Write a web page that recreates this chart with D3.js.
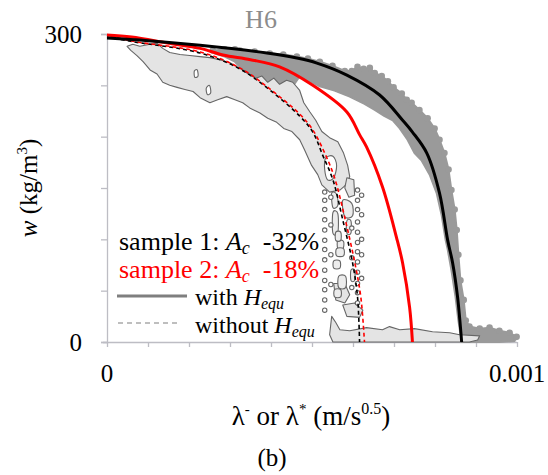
<!DOCTYPE html>
<html>
<head>
<meta charset="utf-8">
<script src="https://cdn.jsdelivr.net/npm/d3@7"></script>
<style>
  html, body { margin: 0; padding: 0; background: #fff; }
  svg { display: block; }
  svg text { font-family: "Liberation Serif", "Times New Roman", "DejaVu Serif", serif; }
</style>
</head>
<body>
<svg id="chart" width="548" height="475" font-family="Liberation Serif, serif"></svg>
<script>
// λ values are written in units of 1e-4 m/s^0.5; w in kg/m3.
const LAMBDA_UNIT = 1e-4;

const xTickValues = d3.range(0, 11).map(i => i * LAMBDA_UNIT);
const xTickLabels = { 0: "0", 10: "0.001" };
const yTickValues = [0, 50, 100, 150, 200, 250, 300];
const yTickLabels = { 0: "0", 300: "300" };

// Model curves
const sample1With = [[0,296],[1.0,293.5],[2.27,289],[3.9,281.5],[4.63,276.6],[5.12,271.7],[5.85,260],[6.65,240.6],[7.21,216],[7.45,204.5],[7.8,184],[8.11,145],[8.31,99],[8.43,77],[8.55,44],[8.65,0]];
const sample2With = [[0,299],[0.6,297],[1.5,291],[2.27,286],[2.83,279.5],[3.5,275],[4.21,268],[5.02,250],[5.85,224],[6.16,202],[6.33,190],[6.72,151],[7.06,102],[7.21,77],[7.38,34],[7.45,0]];
const sample1Without = [[0,297],[0.63,292.5],[2.27,281.5],[3.24,266],[3.97,245.5],[4.70,220],[5.02,204.5],[5.26,182],[5.51,158],[5.75,119],[5.99,77],[6.11,44],[6.16,0]];
const sample2Without = [[0,299],[0.63,293],[2.27,282.5],[3.24,267],[3.97,246.5],[4.70,222],[5.02,206.5],[5.31,184],[5.55,160],[5.80,121],[6.04,78],[6.19,44],[6.28,0]];

// Sample 1 measurements: outer edge of the point cloud (upper/right side) and inner edge
const sample1Outer = [[2.58,284],[2.87,285],[3.12,285],[3.24,284],[3.6,283],[3.97,281],[4.3,280],[4.63,278],[4.9,276],[5.19,273],[5.5,269],[5.80,264],[5.97,264],[6.11,268],[6.26,266],[6.41,267],[6.53,262],[6.70,259],[6.85,254],[6.99,248],[7.19,242],[7.31,236],[7.43,233],[7.62,226],[7.82,218],[7.99,208],[8.11,197],[8.23,184],[8.33,168],[8.40,148],[8.48,129],[8.53,109],[8.57,85],[8.62,60],[8.70,41],[8.75,21],[8.84,15],[9.09,13],[9.33,14],[9.57,11],[9.82,9],[9.99,5]];
const sample1Inner = [[9.94,1],[9.57,0],[8.96,0],[8.65,0],[8.57,21],[8.50,44],[8.40,70],[8.31,90],[8.26,99],[8.16,124],[8.04,145],[7.87,163],[7.67,177],[7.50,184],[7.33,197],[7.14,208],[6.97,216],[6.77,220],[6.53,226],[6.28,232],[5.92,239],[5.55,245],[5.19,249],[4.90,255],[4.70,259],[4.53,249],[4.38,255],[4.21,251],[4.07,257],[3.92,253],[3.78,259],[3.63,257],[3.48,260],[3.31,265],[3.12,273],[2.87,278],[2.63,281]];

// Sample 2 measurements: outlined regions, holes, small blobs and isolated points
const sample2Regions = [
  [[0.49,288],[0.63,290],[0.80,288],[1.05,290],[1.22,291],[1.36,286],[1.53,282],[1.78,280],[2.02,279],[2.27,278],[2.51,277],[2.75,275],[3.00,272],[3.31,265],[3.48,260],[3.63,257],[3.78,259],[3.92,253],[4.07,257],[4.21,251],[4.38,255],[4.53,253],[4.70,245],[4.80,233],[4.95,224],[5.09,216],[5.24,205],[5.43,199],[5.63,195],[5.77,184],[5.87,172],[5.92,161],[5.80,152],
   [5.68,148],[5.43,146],[5.24,153],[5.14,163],[4.99,172],[4.82,187],[4.70,197],[4.51,205],[4.31,208],[4.14,214],[3.92,218],[3.73,223],[3.48,228],[3.31,233],[3.12,236],[2.92,239],[2.70,236],[2.51,233],[2.27,238],[2.10,244],[1.90,246],[1.71,248],[1.53,250],[1.36,253],[1.22,261],[1.05,265],[0.88,273],[0.73,279],[0.58,284]],
  [[5.85,160],[6.02,158],[6.04,143],[5.90,141],[5.80,150]],
  [[5.53,57],[5.80,57],[5.92,46],[5.80,38],[5.58,41]],
  [[5.75,36],[6.04,38],[6.24,31],[6.16,24],[5.85,25]],
  [[5.48,25],[5.58,19],[5.68,12],[5.92,11],[6.33,14],[6.72,12],[6.89,15],[7.14,12],[7.50,13],[7.94,10],[8.36,9],[8.60,7],[9.09,6],[9.04,2],[8.84,0],[5.51,0],[5.43,7]]
];
const sample2Blobs = [
  [[5.48,145],[5.60,144],[5.63,133],[5.51,131]],
  [[5.51,126],[5.63,125],[5.63,107],[5.51,106]],
  [[5.75,138],[5.97,135],[5.99,123],[5.80,122]],
  [[5.63,99],[5.77,98],[5.75,90],[5.63,91]],
  [[5.58,107],[5.70,107],[5.70,99],[5.58,99]],
  [[5.60,91],[5.77,91],[5.77,84],[5.60,84]],
  [[5.53,79],[5.68,79],[5.68,72],[5.53,72]],
  [[5.65,64],[5.82,64],[5.82,53],[5.65,53]],
  [[5.55,51],[5.70,51],[5.70,44],[5.55,44]],
  [[5.85,118],[5.95,118],[5.95,106],[5.85,106]],
  [[5.95,70],[6.04,70],[6.04,60],[5.95,60]]
];
const sample2Holes = [
  [[5.33,179],[5.51,181],[5.60,172],[5.53,160],[5.38,158],[5.31,168]],
  [[2.13,264],[2.20,265],[2.22,259],[2.14,258]],
  [[2.42,247],[2.50,250],[2.53,243],[2.45,241]]
];
const sample2Points = [
  [5.31,146],[5.31,138],[5.31,129],[5.31,119],[5.31,109],[5.31,99],[5.31,90],[5.31,80],[5.31,70],[5.31,60],[5.31,51],[5.31,41],[5.31,31],
  [5.46,141],[5.46,114],[5.46,85],[5.46,56],
  [6.11,148],[6.11,138],[6.11,129],[6.11,117],[6.11,107],[6.11,97],[6.11,88],[6.11,78],[6.11,68],[6.11,57],[6.11,48],[6.11,38],
  [5.97,111],[5.97,82],[5.97,53],
  [6.21,143],[6.21,124],[6.21,100],[6.21,85],[6.21,62]
];

const svg = d3.select("#chart");
const x = d3.scaleLinear().domain([0, 0.001]).range([107, 517]);
const y = d3.scaleLinear().domain([0, 300]).range([342, 34]);
const px = d => x(d[0] * LAMBDA_UNIT);
const py = d => y(d[1]);

// Axes
const xAxis = d3.axisBottom(x).tickValues(xTickValues).tickSize(5).tickFormat("");
const gx = svg.append("g").attr("transform", `translate(0,${y(0)})`).call(xAxis);
const yAxis = d3.axisLeft(y).tickValues(yTickValues).tickSize(6).tickFormat("");
const gy = svg.append("g").attr("transform", `translate(${x(0)},0)`).call(yAxis);
[gx, gy].forEach(g => {
  g.select(".domain").attr("stroke", "#bdbdc4").attr("stroke-width", 1.3);
  g.selectAll(".tick line").attr("stroke", "#bdbdc4").attr("stroke-width", 1.3);
});
gx.select(".domain").attr("d", `M${x(0) - 4},0.5H${x(0.001)}`);

const serif = "Liberation Serif, Times New Roman, serif";
svg.append("g").selectAll("text").data(xTickValues.filter((v, i) => xTickLabels[i] !== undefined))
  .join("text")
  .attr("x", d => x(d)).attr("y", 382)
  .attr("text-anchor", "middle").attr("font-size", 25).attr("font-family", serif).attr("fill", "#000")
  .text(d => xTickLabels[Math.round(d / LAMBDA_UNIT)]);
svg.append("g").selectAll("text").data(yTickValues.filter(v => yTickLabels[v] !== undefined))
  .join("text")
  .attr("x", 82).attr("y", d => y(d) + 9)
  .attr("text-anchor", "end").attr("font-size", 25).attr("font-family", serif).attr("fill", "#000")
  .text(d => yTickLabels[d]);

// Sample 1 cloud
const line = d3.line().x(px).y(py);
svg.append("path").datum(sample1Outer.concat(sample1Inner)).attr("d", line.curve(d3.curveLinearClosed))
  .attr("fill", "#9a9a9a").attr("stroke", "#9a9a9a").attr("stroke-width", 2).attr("stroke-linejoin", "round");
svg.append("g").selectAll("circle").data(sample1Outer).join("circle")
  .attr("cx", px).attr("cy", py).attr("r", 3.3).attr("fill", "#9a9a9a");

// Sample 2 outlined regions
svg.append("g").selectAll("path").data(sample2Regions).join("path")
  .attr("d", d3.line().x(px).y(py).curve(d3.curveLinearClosed))
  .attr("fill", "#e4e4e4").attr("stroke", "#666").attr("stroke-width", 1.1).attr("stroke-linejoin", "round");
svg.append("g").selectAll("path").data(sample2Blobs).join("path")
  .attr("d", d3.line().x(px).y(py).curve(d3.curveCardinalClosed))
  .attr("fill", "#ececec").attr("stroke", "#666").attr("stroke-width", 1.1);
svg.append("g").selectAll("path").data(sample2Holes).join("path")
  .attr("d", d3.line().x(px).y(py).curve(d3.curveCardinalClosed))
  .attr("fill", "#fff").attr("stroke", "#666").attr("stroke-width", 1.1);
svg.append("g").selectAll("circle").data(sample2Points).join("circle")
  .attr("cx", px).attr("cy", py).attr("r", 2.2)
  .attr("fill", "#fff").attr("stroke", "#666").attr("stroke-width", 1.1);

// Model curves
const curve = d3.line().x(px).y(py).curve(d3.curveCatmullRom.alpha(0.5));
svg.append("path").datum(sample1Without).attr("d", curve)
  .attr("fill", "none").attr("stroke", "#000").attr("stroke-width", 1.6).attr("stroke-dasharray", "4,3");
svg.append("path").datum(sample2Without).attr("d", curve)
  .attr("fill", "none").attr("stroke", "#f00").attr("stroke-width", 1.6).attr("stroke-dasharray", "4,3").attr("stroke-dashoffset", 3.5);
svg.append("path").datum(sample2With).attr("d", curve)
  .attr("fill", "none").attr("stroke", "#f00").attr("stroke-width", 3);
svg.append("path").datum(sample1With).attr("d", curve)
  .attr("fill", "none").attr("stroke", "#000").attr("stroke-width", 3);

// Title
svg.append("text").attr("x", 261).attr("y", 28).attr("text-anchor", "middle").attr("font-family", serif)
  .attr("font-size", 26).attr("fill", "#8c8c8c").text("H6");

// Axis titles
const xl = svg.append("text").attr("x", 311).attr("y", 425).attr("text-anchor", "middle")
  .attr("font-family", serif).attr("font-size", 27);
xl.append("tspan").text("λ");
xl.append("tspan").attr("font-size", 15).attr("dy", -11).text("-");
xl.append("tspan").attr("dy", 11).text(" or λ");
xl.append("tspan").attr("font-size", 15).attr("dy", -11).text("*");
xl.append("tspan").attr("dy", 11).text(" (m/s");
xl.append("tspan").attr("font-size", 16).attr("dy", -11).text("0.5");
xl.append("tspan").attr("dy", 11).text(")");

const yl = svg.append("text").attr("transform", "translate(37,188) rotate(-90)")
  .attr("text-anchor", "middle").attr("font-family", serif).attr("font-size", 25);
yl.append("tspan").attr("font-style", "italic").text("w");
yl.append("tspan").text(" (kg/m");
yl.append("tspan").attr("font-size", 15).attr("dy", -10).text("3");
yl.append("tspan").attr("dy", 10).text(")");

svg.append("text").attr("x", 272).attr("y", 466).attr("text-anchor", "middle")
  .attr("font-family", serif).attr("font-size", 25).text("(b)");

// Legend
const legendRows = [
  { label: "sample 1: ", value: "-32%", color: "#000", y: 250 },
  { label: "sample 2: ", value: "-18%", color: "#f00", y: 278 }
];
legendRows.forEach(r => {
  const t = svg.append("text").attr("x", 119).attr("y", r.y).attr("font-family", serif)
    .attr("font-size", 26).attr("fill", r.color);
  t.append("tspan").text(r.label);
  t.append("tspan").attr("font-style", "italic").text("A");
  t.append("tspan").attr("font-style", "italic").attr("font-size", 18).attr("dy", 4).text("c");
  t.append("tspan").attr("dy", -4).text("\u00a0 " + r.value);
});
svg.append("line").attr("x1", 117).attr("x2", 187).attr("y1", 296).attr("y2", 296)
  .attr("stroke", "#7f7f7f").attr("stroke-width", 3);
svg.append("line").attr("x1", 118).attr("x2", 181).attr("y1", 323).attr("y2", 323)
  .attr("stroke", "#7f7f7f").attr("stroke-width", 1.2).attr("stroke-dasharray", "5,4");
[["with ", 305], ["without ", 333]].forEach(([txt, yy]) => {
  const t = svg.append("text").attr("x", 195).attr("y", yy).attr("font-family", serif).attr("font-size", 24);
  t.append("tspan").text(txt);
  t.append("tspan").attr("font-style", "italic").text("H");
  t.append("tspan").attr("font-style", "italic").attr("font-size", 16).attr("dy", 4).text("equ");
});
</script>
</body>
</html>
